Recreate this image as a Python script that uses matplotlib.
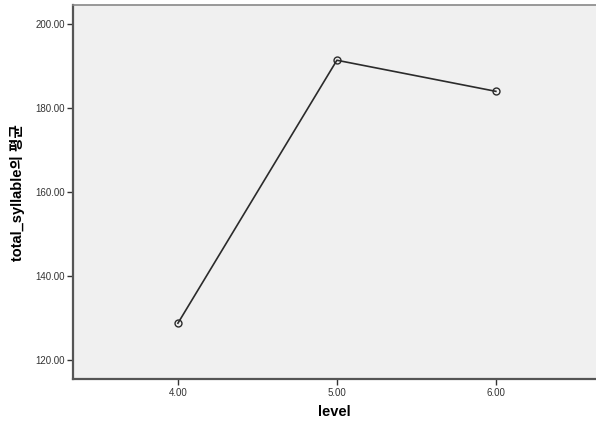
import matplotlib
matplotlib.use('Agg')
import matplotlib.pyplot as plt

levels = [4.0, 5.0, 6.0]
means = [128.8, 191.4, 184.0]
yticks = [120, 140, 160, 180, 200]
xticks = [4.0, 5.0, 6.0]

plt.rcParams['font.family'] = ['Liberation Sans', 'Noto Sans CJK KR']

fig = plt.figure(figsize=(5.96, 4.21), dpi=100)
ax = fig.add_axes([0.1225, 0.0986, 0.8775, 0.889])
ax.set_facecolor('#f0f0f0')

ax.plot(levels, means, color='#2b2b2b', lw=1.2, marker='o', markersize=5,
        markerfacecolor='none', markeredgecolor='#2b2b2b', markeredgewidth=1.0)

ax.set_xlim(3.34, 6.63)
ax.set_ylim(115.4, 204.5)
ax.set_xticks(xticks)
ax.set_xticklabels(['%.2f' % v for v in xticks])
ax.set_yticks(yticks)
ax.set_yticklabels(['%.2f' % v for v in yticks])
ax.tick_params(labelsize=7, colors='#333333', length=4, width=1, pad=2)

for side in ['left', 'bottom']:
    ax.spines[side].set_color('#555555')
    ax.spines[side].set_linewidth(1.6)
ax.spines['top'].set_color('#888888')
ax.spines['top'].set_linewidth(1.2)
ax.spines['right'].set_visible(False)

ax.set_xlabel('level', fontsize=10.5, fontweight='bold', labelpad=5)
ax.set_ylabel('total_syllable의 평균', fontsize=10.5, fontweight='bold', labelpad=7)

fig.savefig('out.png', dpi=100)
